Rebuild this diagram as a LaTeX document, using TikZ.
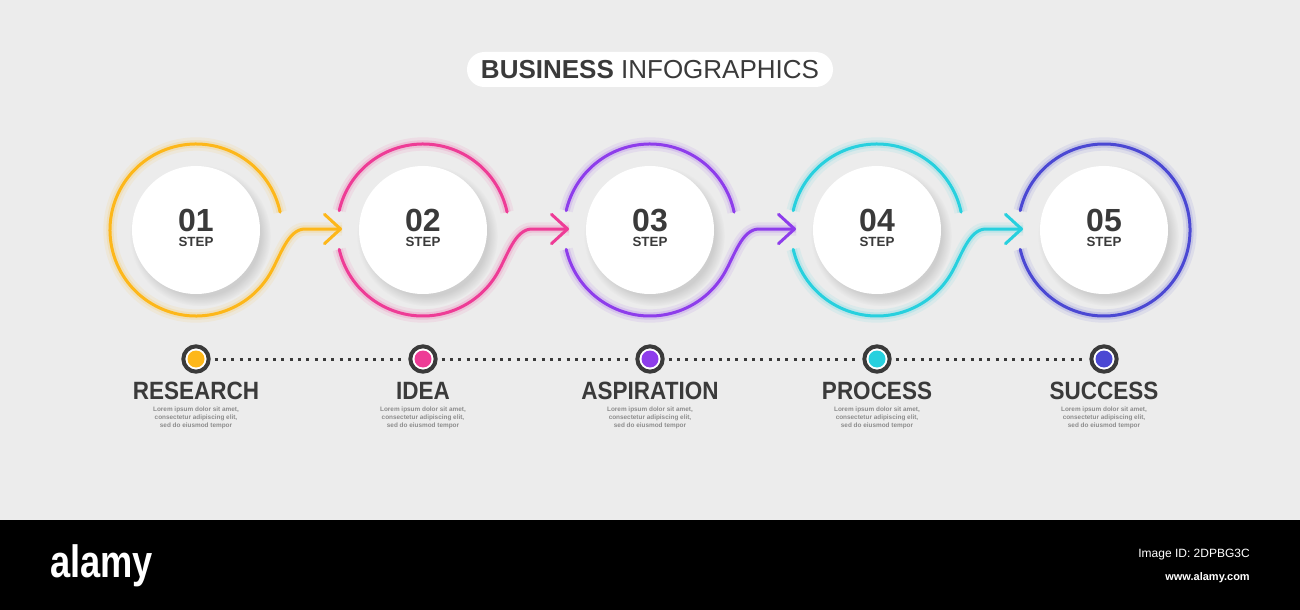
\documentclass[tikz,border=0pt]{standalone}
\usepackage{xcolor}
\usepackage{fontspec}
\setmainfont{Liberation Sans}
\usepackage{tikz}
\usetikzlibrary{calc,arrows.meta,shadows,fadings}

\definecolor{bggray}{HTML}{ECECEC}
\definecolor{inkgray}{HTML}{3A3A3A}
\definecolor{lorgray}{HTML}{8C8C8C}
\definecolor{ringyellow}{HTML}{FDB71A}
\definecolor{ringpink}{HTML}{EE3C96}
\definecolor{ringviolet}{HTML}{8E3DEB}
\definecolor{ringcyan}{HTML}{27D0DE}
\definecolor{ringindigo}{HTML}{4B48D3}

\tikzset{
  ring/.style={draw=#1, line width=2.25pt, line cap=round,
    preaction={draw=#1, line width=10pt, draw opacity=0.09, arrows=-},
    preaction={draw=#1, line width=5.5pt, draw opacity=0.16, arrows=-}},
  tiparrow/.style={-{Straight Barb[length=12pt,width=22pt,round]}},
  diskbox/.style={circle, fill=white, minimum size=96pt, inner sep=0pt,
    circular drop shadow={shadow scale=1.1, shadow xshift=3pt, shadow yshift=-4pt, opacity=0.22, fill=black!60}},
  numtxt/.style={anchor=base, inner sep=0pt, text=inkgray, font=\fontsize{24}{24}\selectfont\bfseries},
  steptxt/.style={anchor=base, inner sep=0pt, text=inkgray, font=\fontsize{10}{10}\selectfont\bfseries},
  tdot/.style={circle, draw=inkgray, line width=3pt, fill=white, minimum size=19pt, inner sep=0pt},
  dotline/.style={draw=inkgray, line width=2.25pt, dash pattern=on 2.25pt off 4pt, shorten <=3pt, shorten >=3pt},
  steplbl/.style={inner sep=0pt, text=inkgray, xscale=0.9, font=\fontsize{18.75}{20}\selectfont\bfseries},
  loremtxt/.style={inner sep=0pt, text=lorgray, align=center, font=\fontsize{4.8}{6}\selectfont\bfseries},
  titlebox/.style={fill=white, rounded corners=13pt, minimum width=274.5pt, minimum height=26.25pt,
    inner sep=0pt, text=inkgray, font=\fontsize{19.5}{20}\selectfont}
}

\begin{document}
\begin{tikzpicture}[x=0.75pt,y=0.75pt,yscale=-1,xscale=1]
\useasboundingbox (0,0) rectangle (1300,610);
\fill[bggray] (0,0) rectangle (1300,520);
\fill[black] (0,520) rectangle (1300,610);

% title
\node[titlebox] (title) at (650,69.5) {\textbf{BUSINESS} INFOGRAPHICS};

% step disks
\node[diskbox] (s1) at (196,230) {};
\node[diskbox] (s2) at (423,230) {};
\node[diskbox] (s3) at (650,230) {};
\node[diskbox] (s4) at (877,230) {};
\node[diskbox] (s5) at (1104,230) {};

\node[numtxt] (n1) at ($(s1)+(0,1)$) {01};
\node[numtxt] (n2) at ($(s2)+(0,1)$) {02};
\node[numtxt] (n3) at ($(s3)+(0,1)$) {03};
\node[numtxt] (n4) at ($(s4)+(0,1)$) {04};
\node[numtxt] (n5) at ($(s5)+(0,1)$) {05};

\node[steptxt] (t1) at ($(s1)+(0,16)$) {STEP};
\node[steptxt] (t2) at ($(s2)+(0,16)$) {STEP};
\node[steptxt] (t3) at ($(s3)+(0,16)$) {STEP};
\node[steptxt] (t4) at ($(s4)+(0,16)$) {STEP};
\node[steptxt] (t5) at ($(s5)+(0,16)$) {STEP};

% rings and arrows
\draw[ring=ringyellow, tiparrow] ($(s1)+(-12:86)$) arc[start angle=-12, end angle=-330, radius=86]
  .. controls +(-60:20) and +(-17,0) .. ($(s2)+(-118,-1)$) -- ($(s2)+(-81,-1)$);

\draw[ring=ringpink] ($(s2)+(-12:86)$) arc[start angle=-12, end angle=-167, radius=86];
\draw[ring=ringpink, tiparrow] ($(s2)+(-193:86)$) arc[start angle=-193, end angle=-330, radius=86]
  .. controls +(-60:20) and +(-17,0) .. ($(s3)+(-118,-1)$) -- ($(s3)+(-81,-1)$);

\draw[ring=ringviolet] ($(s3)+(-12:86)$) arc[start angle=-12, end angle=-167, radius=86];
\draw[ring=ringviolet, tiparrow] ($(s3)+(-193:86)$) arc[start angle=-193, end angle=-330, radius=86]
  .. controls +(-60:20) and +(-17,0) .. ($(s4)+(-118,-1)$) -- ($(s4)+(-81,-1)$);

\draw[ring=ringcyan] ($(s4)+(-12:86)$) arc[start angle=-12, end angle=-167, radius=86];
\draw[ring=ringcyan, tiparrow] ($(s4)+(-193:86)$) arc[start angle=-193, end angle=-330, radius=86]
  .. controls +(-60:20) and +(-17,0) .. ($(s5)+(-118,-1)$) -- ($(s5)+(-81,-1)$);

\draw[ring=ringindigo] ($(s5)+(-193:86)$) arc[start angle=-193, end angle=-527, radius=86];

% timeline
\node[tdot] (d1) at (196,359) {};
\node[tdot] (d2) at (423,359) {};
\node[tdot] (d3) at (650,359) {};
\node[tdot] (d4) at (877,359) {};
\node[tdot] (d5) at (1104,359) {};
\fill[ringyellow] (d1) circle[radius=8.5];
\fill[ringpink] (d2) circle[radius=8.5];
\fill[ringviolet] (d3) circle[radius=8.5];
\fill[ringcyan] (d4) circle[radius=8.5];
\fill[ringindigo] (d5) circle[radius=8.5];

\draw[dotline] (d1) -- (d2);
\draw[dotline] (d2) -- (d3);
\draw[dotline] (d3) -- (d4);
\draw[dotline] (d4) -- (d5);

% labels
\node[steplbl] (l1) at (196,391) {RESEARCH};
\node[steplbl] (l2) at (423,391) {IDEA};
\node[steplbl] (l3) at (650,391) {ASPIRATION};
\node[steplbl] (l4) at (877,391) {PROCESS};
\node[steplbl] (l5) at (1104,391) {SUCCESS};

\node[loremtxt] (p1) at (196,418) {Lorem ipsum dolor sit amet,\\consectetur adipiscing elit,\\sed do eiusmod tempor};
\node[loremtxt] (p2) at (423,418) {Lorem ipsum dolor sit amet,\\consectetur adipiscing elit,\\sed do eiusmod tempor};
\node[loremtxt] (p3) at (650,418) {Lorem ipsum dolor sit amet,\\consectetur adipiscing elit,\\sed do eiusmod tempor};
\node[loremtxt] (p4) at (877,418) {Lorem ipsum dolor sit amet,\\consectetur adipiscing elit,\\sed do eiusmod tempor};
\node[loremtxt] (p5) at (1104,418) {Lorem ipsum dolor sit amet,\\consectetur adipiscing elit,\\sed do eiusmod tempor};

% bottom band
\node[anchor=base west, inner sep=0pt, text=white, xscale=0.8, font=\fontsize{34}{34}\selectfont\bfseries] (logo) at (50,577) {alamy};
\node[anchor=base east, inner sep=0pt, text=white, font=\fontsize{9}{9}\selectfont] (imgid) at (1250,557) {Image ID: 2DPBG3C};
\node[anchor=base east, inner sep=0pt, text=white, font=\fontsize{8.25}{9}\selectfont\bfseries] (url) at (1250,580) {www.alamy.com};
\end{tikzpicture}
\end{document}
